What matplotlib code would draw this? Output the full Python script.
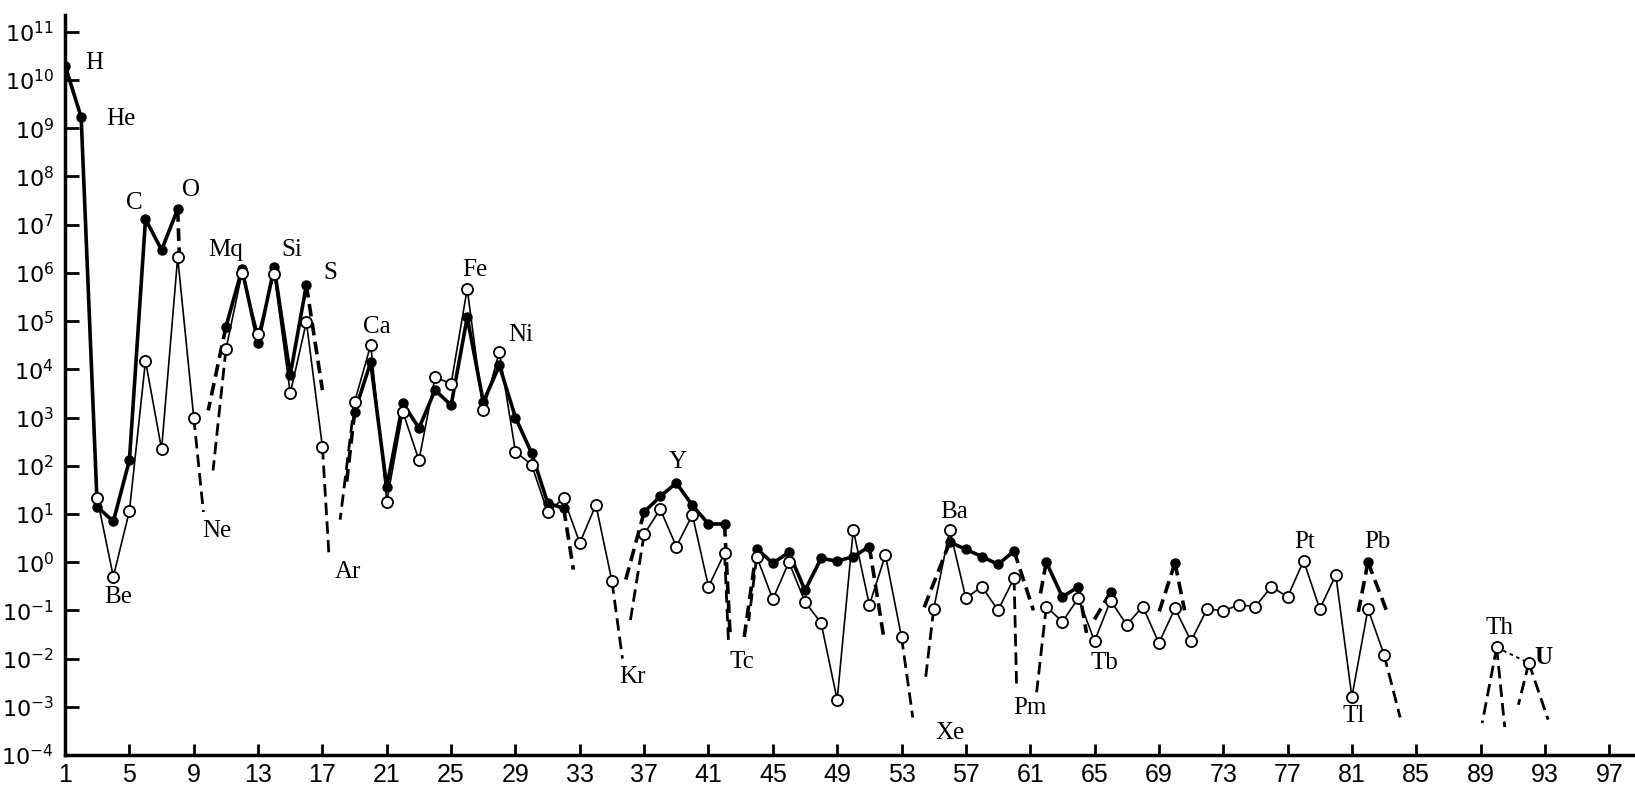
import numpy as np
import matplotlib
matplotlib.use("Agg")
import matplotlib.pyplot as plt

nan = np.nan

# atomic number 1..92
z = np.arange(1, 93)

# filled circles (thick line)
filled = [
    2e10, 1.7e9, 14, 7, 130, 1.3e7, 3e6, 2.1e7, nan, nan,          # 1-10
    7.6e4, 1.2e6, 3.5e4, 1.3e6, 7.6e3, 5.6e5, nan, nan, 1.3e3, 1.4e4,  # 11-20
    36, 2e3, 600, 3.7e3, 1.8e3, 1.2e5, 2.1e3, 1.2e4, 1e3, 185,      # 21-30
    17, 13, nan, nan, nan, nan, 11, 23, 44, 15,                     # 31-40
    6.2, 6.2, nan, 1.9, 0.95, 1.6, 0.26, 1.2, 1.05, 1.3,            # 41-50
    2.1, nan, nan, nan, nan, 2.6, 1.85, 1.3, 0.9, 1.7,              # 51-60
    nan, 1.0, 0.19, 0.31, nan, 0.24, nan, nan, nan, 0.96,           # 61-70
    nan, nan, nan, nan, nan, nan, nan, nan, nan, nan,               # 71-80
    nan, 1.0, nan, nan, nan, nan, nan, nan, nan, nan,               # 81-90
    nan, nan,                                                       # 91-92
]

# open circles (thin line)
hollow = [
    nan, nan, 21, 0.5, 11.5, 1.5e4, 220, 2.1e6, 1000, nan,          # 1-10
    2.6e4, 1e6, 5.4e4, 9.5e5, 3.2e3, 9.6e4, 245, nan, 2.1e3, 3.2e4,  # 11-20
    18, 1.3e3, 130, 6.9e3, 5e3, 4.7e5, 1.4e3, 2.3e4, 195, 105,      # 21-30
    11, 21, 2.5, 15.5, 0.4, nan, 3.8, 12.6, 2.1, 9.6,               # 31-40
    0.31, 1.55, nan, 1.3, 0.17, 1.0, 0.15, 0.055, 0.0014, 4.7,      # 41-50
    0.13, 1.4, 0.028, nan, 0.107, 4.7, 0.18, 0.31, 0.1, 0.47,       # 51-60
    nan, 0.12, 0.058, 0.18, 0.023, 0.16, 0.05, 0.12, 0.021, 0.11,   # 61-70
    0.023, 0.107, 0.098, 0.13, 0.12, 0.31, 0.19, 1.07, 0.107, 0.54, # 71-80
    0.0016, 0.107, 0.012, nan, nan, nan, nan, nan, nan, 0.017,      # 81-90
    nan, 0.0081,                                                    # 91-92
]

# dashed continuations: start element, end position, end value
filled_stub_from = [8, 11, 16, 19, 32, 37, 42, 44, 51, 56, 60, 62, 64, 66, 70, 70, 82, 82]
filled_stub_to_z = [8.1, 9.9, 17.0, 18.5, 32.6, 35.8, 42.35, 43.2, 51.9, 54.3, 61.2, 61.6, 64.5, 64.8, 69.0, 70.6, 81.4, 83.2]
filled_stub_to_v = [2.5e6, 1.4e3, 3.7e3, 45, 0.7, 0.37, 0.028, 0.025, 0.027, 0.093, 0.1, 0.19, 0.034, 0.05, 0.09, 0.1, 0.093, 0.09]

hollow_stub_from = [9, 11, 17, 19, 35, 37, 42, 44, 53, 55, 60, 62, 83, 90, 90, 92, 92]
hollow_stub_to_z = [9.6, 10.2, 17.4, 18.1, 35.65, 36.1, 42.25, 43.5, 53.7, 54.5, 60.15, 61.4, 84.0, 89.1, 90.5, 91.35, 93.2]
hollow_stub_to_v = [11, 80, 1.5, 7.6, 0.01, 0.05, 0.02, 0.06, 6e-4, 0.004, 0.003, 0.002, 6e-4, 4.6e-4, 3.8e-4, 1.1e-3, 5.4e-4]

# element names written on the chart
labels = ["H", "He", "C", "O", "Mq", "Si", "S", "Ca", "Fe", "Ni", "Be", "Ne", "Ar",
          "Y", "Kr", "Tc", "Ba", "Xe", "Pm", "Tb", "Pt", "Pb", "Tl", "Th", "U"]
label_z = [2.8, 4.5, 5.3, 8.8, 11.0, 15.1, 17.5, 20.4, 26.5, 29.3, 4.3, 10.45, 18.6,
           39.1, 36.3, 43.1, 56.3, 56.0, 61.0, 65.6, 78.05, 82.6, 81.1, 90.2, 92.9]
label_logv = [10.36, 9.2, 7.45, 7.72, 6.48, 6.48, 6.0, 4.88, 6.06, 4.71, -0.72, 0.65, -0.2,
              2.08, -2.38, -2.07, 1.04, -3.54, -3.02, -2.09, 0.42, 0.42, -3.2, -1.37, -1.97]

xticks = np.arange(1, 98, 4)
yexp = np.arange(-4, 12)

filled = np.array(filled, dtype=float)
hollow = np.array(hollow, dtype=float)

fig = plt.figure(figsize=(16.35, 7.88), dpi=100)
ax = fig.add_axes([0.0398, 0.0419, 0.9602, 0.9391])

# dashed stubs first so the markers sit on top
for s, tz, tv in zip(hollow_stub_from, hollow_stub_to_z, hollow_stub_to_v):
    ax.plot([s, tz], [hollow[s - 1], tv], color="black", lw=2.0, dashes=(4.5, 2.2))
for s, tz, tv in zip(filled_stub_from, filled_stub_to_z, filled_stub_to_v):
    ax.plot([s, tz], [filled[s - 1], tv], color="black", lw=2.6, dashes=(3.5, 1.8))
# small dashed link between Th and U
ax.plot([90, 92], [hollow[89], hollow[91]], color="black", lw=1.3, dashes=(2, 2))

ax.plot(z, filled, color="black", lw=2.6, marker="o", ms=6.5,
        mfc="black", mec="black", zorder=3)
ax.plot(z, hollow, color="black", lw=1.2, marker="o", ms=8,
        mfc="white", mec="black", mew=1.3, zorder=4)

for t, lz, lv in zip(labels, label_z, label_logv):
    ax.text(lz, 10 ** lv, t, fontsize=18, family="Liberation Serif",
            fontweight="bold" if t == "U" else "normal",
            ha="center", va="center")

ax.set_yscale("log")
ax.set_xlim(1, 98.6)
ax.set_ylim(1e-4, 10 ** 11.35)
ax.set_xticks(xticks)
ax.set_xticklabels([str(v) for v in xticks], fontsize=18, family="Liberation Sans")
ax.set_yticks([10.0 ** e for e in yexp])
ax.set_yticklabels([r"$10^{%d}$" % e for e in yexp], fontsize=16)
ax.yaxis.set_minor_locator(matplotlib.ticker.NullLocator())
ax.tick_params(axis="both", direction="in", width=2, color="black")
ax.tick_params(axis="y", length=10, pad=8)
ax.tick_params(axis="x", length=8, pad=6)

for side in ["top", "right"]:
    ax.spines[side].set_visible(False)
for side in ["left", "bottom"]:
    ax.spines[side].set_linewidth(2.5)

fig.savefig("out.png", dpi=100)
